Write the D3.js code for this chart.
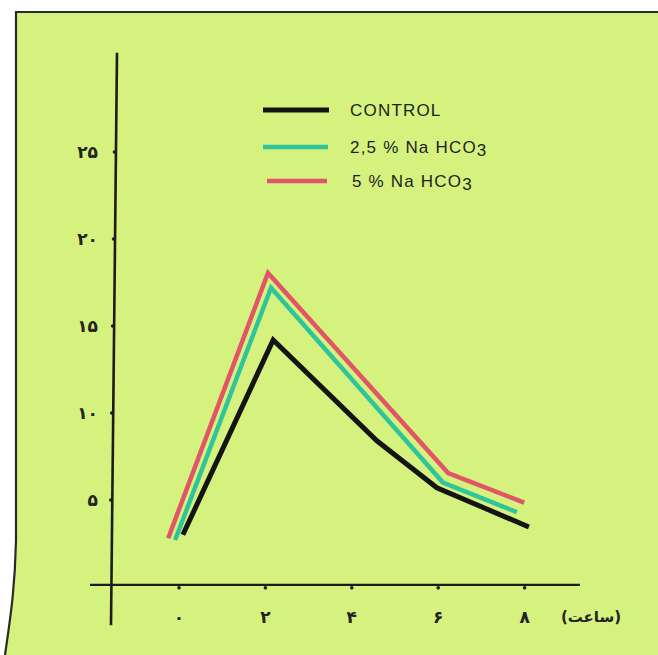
<!DOCTYPE html>
<html><head><meta charset="utf-8">
<script src="https://cdn.jsdelivr.net/npm/d3@7/dist/d3.min.js"></script>
<style>html,body{margin:0;padding:0;background:#fff;}svg{display:block;}</style>
</head><body>
<script>
// ---- data ----
const seriesNames = ["CONTROL", "2,5 % Na HCO3", "5 % Na HCO3"];
const controlPts = [[0.09, 3.0], [2.18, 14.2], [4.58, 8.4], [5.97, 5.7], [8.10, 3.45]];
const nahco25Pts = [[-0.09, 2.7], [2.13, 17.2], [6.11, 6.0], [7.82, 4.3]];
const nahco5Pts  = [[-0.25, 2.8], [2.06, 18.05], [6.23, 6.55], [7.99, 4.85]];
const xTicks = [0, 2, 4, 6, 8];
const yTicks = [5, 10, 15, 20, 25];
const xUnit = "(ساعت)";
const fa = n => String(n).replace(/\d/g, d => "۰۱۲۳۴۵۶۷۸۹"[d]);

const W = 658, H = 655;
const colors = ["#141414", "#30c49a", "#e25468"];
const widths = [5, 4.5, 4.5];

const svg = d3.select("body").append("svg").attr("width", W).attr("height", H);

// panel background with border (top and curved left edge)
svg.append("path")
  .attr("d", "M16,12 L658,12 L658,655 L5,655 C10,620 15,590 16,540 Z")
  .attr("fill", "#d5f27e");
svg.append("path")
  .attr("d", "M658,12 L16,12 L16,540 C15,590 10,620 5,655")
  .attr("fill", "none").attr("stroke", "#2a2a2a").attr("stroke-width", 2.2);

const x = d3.scaleLinear().domain([0, 8]).range([179, 524.6]);
const y = d3.scaleLinear().domain([0, 25]).range([587, 152]);

// axes
const axisColor = "#1c1c1c";
svg.append("line")
  .attr("x1", x(-2.06)).attr("x2", x(9.28))
  .attr("y1", y(0.12)).attr("y2", y(0.12))
  .attr("stroke", axisColor).attr("stroke-width", 2.4);
svg.append("line")
  .attr("x1", 117).attr("x2", 111)
  .attr("y1", y(30.7)).attr("y2", y(-2.2))
  .attr("stroke", axisColor).attr("stroke-width", 2.6);

const digitFont = "DejaVu Sans, sans-serif";
// x ticks (dots) and labels
svg.selectAll(".xt").data(xTicks).enter().append("circle")
  .attr("cx", d => x(d)).attr("cy", y(-0.05)).attr("r", 1.8).attr("fill", axisColor);
svg.selectAll(".xl").data(xTicks).enter().append("text")
  .attr("x", d => x(d)).attr("y", 623)
  .attr("text-anchor", "middle")
  .attr("font-family", digitFont).attr("font-size", 17).attr("font-weight", "bold")
  .attr("fill", "#222")
  .text(d => fa(d));
svg.append("text")
  .attr("x", 591).attr("y", 622).attr("text-anchor", "middle")
  .attr("font-family", digitFont).attr("font-size", 15).attr("font-weight", "bold")
  .attr("fill", "#222").attr("direction", "rtl")
  .text(xUnit);

// y ticks (dots) and labels
const yAxisX = v => 117 - 6 * (y(30.7) - y(v)) / (y(30.7) - y(-2.2));
svg.selectAll(".yt").data(yTicks).enter().append("circle")
  .attr("cx", d => yAxisX(d) - 1.5).attr("cy", d => y(d)).attr("r", 1.8).attr("fill", axisColor);
svg.selectAll(".yl").data(yTicks).enter().append("text")
  .attr("x", 98).attr("y", d => y(d) + 6)
  .attr("text-anchor", "end")
  .attr("font-family", digitFont).attr("font-size", 17).attr("font-weight", "bold")
  .attr("fill", "#222")
  .text(d => fa(d));

// lines
const line = d3.line().x(d => x(d[0])).y(d => y(d[1]));
const all = [controlPts, nahco25Pts, nahco5Pts];
[2, 1, 0].forEach(i => {
  svg.append("path").datum(all[i])
    .attr("d", line)
    .attr("fill", "none").attr("stroke", colors[i]).attr("stroke-width", widths[i])
    .attr("stroke-linejoin", "miter").attr("stroke-linecap", "butt");
});

// legend
const legY = [110, 147, 181];
const legX1 = [263, 263, 267], legX2 = [329, 328, 327];
const legTX = [350, 350, 352];
seriesNames.forEach((name, i) => {
  svg.append("line")
    .attr("x1", legX1[i]).attr("x2", legX2[i]).attr("y1", legY[i]).attr("y2", legY[i])
    .attr("stroke", colors[i]).attr("stroke-width", i === 0 ? 5 : 4.5);
  const t = svg.append("text")
    .attr("x", legTX[i]).attr("y", legY[i] + 6)
    .attr("font-family", "Liberation Sans, Arial, sans-serif").attr("font-size", 17)
    .attr("letter-spacing", 1.2)
    .attr("fill", "#1e1e1e");
  const m = name.match(/^(.*?)(\d)$/);
  if (m && name.includes("HCO")) {
    t.append("tspan").text(m[1]);
    t.append("tspan").attr("dy", 3).text(m[2]);
  } else {
    t.text(name);
  }
});
</script>
</body></html>
